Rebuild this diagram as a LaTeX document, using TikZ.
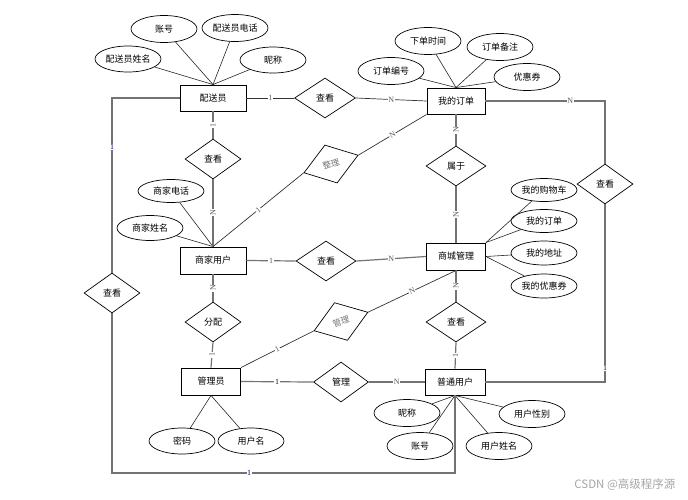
\documentclass[tikz,border=0pt]{standalone}
\usepackage{fontspec}
\setmainfont{Liberation Serif}
\newfontfamily\cjk{Noto Sans CJK SC}
\usetikzlibrary{shapes.geometric}
\begin{document}
\begin{tikzpicture}[x=1pt,y=-1pt,
  ent/.style={draw, line width=0.9pt, rectangle, minimum height=26pt, inner sep=0pt, font=\cjk\fontsize{9}{10}\selectfont},
  rel/.style={draw, line width=0.7pt, diamond, minimum width=56pt, minimum height=40pt, inner sep=0pt, font=\cjk\fontsize{9}{10}\selectfont},
  attr/.style={draw, line width=0.7pt, ellipse, minimum width=66pt, minimum height=26pt, inner sep=0pt, font=\cjk\fontsize{9}{10}\selectfont},
  conn/.style={draw=black!80, line width=0.7pt},
  gconn/.style={draw=black!55, line width=1.2pt},
  aconn/.style={draw=black!85, line width=0.6pt},
  lbl/.style={font=\fontsize{8}{8}\selectfont, fill=white, inner sep=0.6pt, text=black!65},
  blbl/.style={lbl, text=blue!45!black},
]
\useasboundingbox (0,0) rectangle (688,499);
% entities
\node[ent, minimum width=66pt] (pei) at (213,98) {配送员};
\node[ent, minimum width=58pt] (dd) at (456,101) {我的订单};
\node[ent, minimum width=66pt, minimum height=27pt] (sj) at (213,260.5) {商家用户};
\node[ent, minimum width=59pt, minimum height=27pt] (sc) at (456,256.5) {商城管理};
\node[ent, minimum width=59pt, minimum height=27pt] (gly) at (211,381.5) {管理员};
\node[ent, minimum width=60pt] (pt) at (455,382) {普通用户};
% relations
\node[rel, minimum width=61pt] (ck1) at (325,98) {查看};
\node[rel] (ck2) at (213,159) {查看};
\node[rel, minimum width=57pt, rotate=18, text=black!55, font=\cjk\fontsize{8.5}{9}\selectfont] (zl) at (331,164) {整理};
\node[rel, minimum width=60pt] (sy) at (456,166) {属于};
\node[rel, minimum width=60pt] (ck3) at (326,261) {查看};
\node[rel] (ck5) at (605,184) {查看};
\node[rel] (ck4) at (112,293) {查看};
\node[rel] (fp) at (213,322) {分配};
\node[rel, minimum width=57pt, rotate=19, text=black!55, font=\cjk\fontsize{8.5}{9}\selectfont] (gl1) at (341,321.5) {管理};
\node[rel, minimum width=55pt] (gl2) at (341,382) {管理};
\node[rel, minimum width=60pt] (ck6) at (456,322) {查看};
% attributes
\node[attr, minimum height=27pt] (a1) at (164,29) {账号};
\node[attr, minimum height=27pt] (a2) at (235,28) {配送员电话};
\node[attr] (a3) at (128,59) {配送员姓名};
\node[attr] (a4) at (273,60) {昵称};
\node[attr, minimum height=27pt] (b1) at (428,41) {下单时间};
\node[attr, minimum height=27pt] (b2) at (500,47) {订单备注};
\node[attr, minimum height=27pt] (b3) at (391,71) {订单编号};
\node[attr, minimum height=27pt] (b4) at (527,77) {优惠券};
\node[attr, minimum height=23pt] (c1) at (171,191) {商家电话};
\node[attr, minimum height=25pt] (c2) at (150,228) {商家姓名};
\node[attr, minimum height=23pt] (d1) at (544,190) {我的购物车};
\node[attr, minimum height=23pt] (d2) at (544,221) {我的订单};
\node[attr, minimum height=24pt] (d3) at (544,253) {我的地址};
\node[attr, minimum height=24pt] (d4) at (544,286) {我的优惠券};
\node[attr] (e1) at (182,441) {密码};
\node[attr] (e2) at (251,441) {用户名};
\node[attr, minimum height=27pt] (f1) at (407,413) {昵称};
\node[attr, minimum height=27pt] (f2) at (420,446) {账号};
\node[attr, minimum height=27pt] (f3) at (499,446) {用户姓名};
\node[attr, minimum height=27pt] (f4) at (532,414) {用户性别};
% attribute lines
\foreach \a in {a1,a2,a3,a4} \draw[aconn] (pei.north) -- (\a);
\foreach \a in {b1,b2,b3,b4} \draw[aconn] (dd.north) -- (\a);
\foreach \a in {c1,c2} \draw[aconn] (sj.north) -- (\a);
\foreach \a in {d1,d2} \draw[aconn] (sc.north east) -- (\a);
\foreach \a in {d3,d4} \draw[aconn] (sc.east) -- (\a);
\foreach \a in {e1,e2} \draw[aconn] (gly.south) -- (\a);
\foreach \a in {f1,f2,f3,f4} \draw[aconn] (pt.south) -- (\a);
% relation lines
\draw[conn] (pei.east) -- node[lbl]{1} (ck1.west);
\draw[conn] (ck1.east) -- node[lbl]{N} (dd.west);
\draw[gconn] (pei.south) -- node[lbl, rotate=90]{1} (ck2.north);
\draw[gconn] (ck2.south) -- node[lbl, rotate=90]{N} (sj.north);
\draw[conn] (sj.north) -- node[lbl, sloped]{1} (zl.west);
\draw[conn] (zl.east) -- node[lbl, sloped]{N} (dd.south west);
\draw[gconn] (sj.east) -- node[lbl]{1} (ck3.west);
\draw[gconn] (ck3.east) -- node[lbl]{N} (sc.west);
\draw[gconn] (dd.south) -- node[lbl, rotate=90]{N} (sy.north);
\draw[gconn] (sy.south) -- node[lbl, rotate=90]{N} (sc.north);
\draw[gconn] (sc.south) -- node[lbl, rotate=90]{N} (ck6.north);
\draw[gconn] (ck6.south) -- node[lbl, rotate=90]{1} (pt.north);
\draw[gconn] (sj.south) -- node[lbl, rotate=90]{N} (fp.north);
\draw[gconn] (fp.south) -- node[lbl, rotate=90]{1} (gly.north);
\draw[conn] (gly.north east) -- node[lbl, sloped]{1} (gl1.west);
\draw[conn] (gl1.east) -- node[lbl, sloped]{N} (sc.south);
\draw[gconn] (gly.east) -- node[blbl]{1} (gl2.west);
\draw[gconn] (gl2.east) -- node[lbl]{N} (pt.west);
% loops
\coordinate (lb) at (112,473);
\draw[gconn] (pei.west) -| node[blbl, pos=0.64]{1} (ck4.north);
\draw[gconn] (ck4.south) -- (lb) -| node[blbl, pos=0.2]{1} (pt.south);
\draw[gconn] (dd.east) -| node[lbl, pos=0.355]{N} (ck5.north);
\draw[gconn] (ck5.south) |- node[blbl, pos=0.46]{1} (pt.east);
% watermark
\node[font=\cjk\fontsize{11.5}{12}\selectfont, text=black!35, anchor=east] (wm) at (679,485) {CSDN @高级程序源};
\end{tikzpicture}
\end{document}
